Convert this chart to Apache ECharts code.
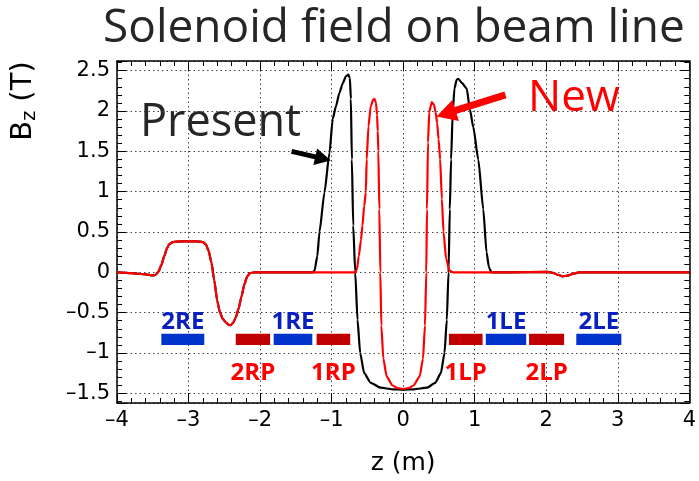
<!DOCTYPE html>
<html><head><meta charset="utf-8">
<script src="https://cdn.jsdelivr.net/npm/echarts@6/dist/echarts.min.js"></script>
<style>html,body{margin:0;padding:0;background:#fff}#c{width:699px;height:481px}</style>
</head><body><div id="c"></div>
<script>
// ---- data ----
const titleText = 'Solenoid field on beam line';
const xTickLabels = [-4, -3, -2, -1, 0, 1, 2, 3, 4];
const yTickLabels = [-1.5, -1, -0.5, 0, 0.5, 1, 1.5, 2, 2.5];

// "New" field (red)
const newZ = [-4.00,-3.80,-3.60,-3.50,-3.46,-3.42,-3.38,-3.34,-3.30,-3.27,-3.22,-3.10,-2.90,-2.80,-2.76,-2.72,-2.68,-2.64,-2.60,-2.56,-2.52,-2.48,-2.44,-2.41,-2.38,-2.34,-2.30,-2.26,-2.22,-2.18,-2.14,-2.08,-1.50,-0.90,
  -0.67,-0.648,-0.62,-0.59,-0.569,-0.545,-0.522,-0.51,-0.485,-0.453,-0.42,-0.40,-0.38,-0.365,-0.355,-0.347,-0.333,-0.319,-0.305,-0.277,-0.231,-0.153,-0.08,0,
  0.08,0.148,0.231,0.277,0.305,0.323,0.333,0.347,0.365,0.40,0.43,0.455,0.475,0.495,0.517,0.541,0.564,0.60,0.648,0.70,1.50,2.02,2.09,2.16,2.23,2.30,2.37,2.46,3.00,4.00];
const newB = [0,-0.01,-0.025,-0.038,-0.03,0.01,0.09,0.20,0.30,0.35,0.375,0.385,0.385,0.375,0.35,0.27,0.12,-0.10,-0.35,-0.50,-0.58,-0.62,-0.65,-0.655,-0.63,-0.56,-0.45,-0.30,-0.15,-0.05,-0.01,0,0,0,
  0,0.03,0.20,0.40,0.58,0.82,0.99,1.40,1.81,2.06,2.14,2.15,2.10,1.95,1.75,1.50,0.78,0,-0.66,-1.07,-1.29,-1.40,-1.435,-1.445,
  -1.435,-1.40,-1.29,-1.07,-0.66,0,0.78,1.61,1.99,2.11,2.08,1.98,1.85,1.65,1.40,0.91,0.50,0.17,0.02,0,0,0.005,-0.005,-0.03,-0.05,-0.04,-0.02,0,0,0];

// "Present" field (black)
const presentZ = [-4.00,-3.80,-3.60,-3.50,-3.46,-3.42,-3.38,-3.34,-3.30,-3.27,-3.22,-3.10,-2.90,-2.80,-2.76,-2.72,-2.68,-2.64,-2.60,-2.56,-2.52,-2.48,-2.44,-2.41,-2.38,-2.34,-2.30,-2.26,-2.22,-2.18,-2.14,-2.08,-1.50,
  -1.26,-1.239,-1.20,-1.17,-1.10,-1.03,-0.985,-0.939,-0.893,-0.846,-0.80,-0.767,-0.745,-0.731,-0.717,-0.698,-0.67,-0.638,-0.601,-0.545,-0.453,-0.315,-0.15,0,
  0.15,0.333,0.448,0.527,0.578,0.61,0.634,0.652,0.67,0.693,0.717,0.749,0.772,0.818,0.888,0.933,0.98,1.05,1.12,1.165,1.20,1.234,1.50,2.02,2.09,2.16,2.23,2.30,2.37,2.46,3.00,4.00];
const presentB = [0,-0.01,-0.025,-0.038,-0.03,0.01,0.09,0.20,0.30,0.35,0.375,0.385,0.385,0.375,0.35,0.27,0.12,-0.10,-0.35,-0.50,-0.58,-0.62,-0.65,-0.655,-0.63,-0.56,-0.45,-0.30,-0.15,-0.05,-0.01,0,0,
  0,0.02,0.20,0.50,0.99,1.48,1.90,2.06,2.22,2.34,2.43,2.45,2.41,2.15,1.40,0.58,0,-0.59,-1.00,-1.25,-1.37,-1.43,-1.45,-1.455,
  -1.45,-1.43,-1.37,-1.25,-1.00,-0.59,0,0.78,1.40,1.99,2.28,2.39,2.40,2.35,2.28,2.02,1.80,1.40,0.78,0.25,0.06,0,0,0.005,-0.005,-0.03,-0.05,-0.04,-0.02,0,0,0];

// magnets along the beam line
const magnetNames = ['2RE','2RP','1RE','1RP','1LP','1LE','2LP','2LE'];
const magnetStart = [-3.38,-2.34,-1.81,-1.21,0.64,1.155,1.76,2.42];
const magnetEnd   = [-2.78,-1.86,-1.27,-0.74,1.11,1.72,2.25,3.05];
const magnetKind  = ['E','P','E','P','P','E','P','E'];
const magnetTop = -0.76, magnetBottom = -0.90;

// annotation arrows (data coordinates)
const presentArrow = [[-1.56, 1.50], [-1.12, 1.41]];
const newArrow = [[1.43, 2.20], [0.60, 1.97]];

// ---- chart ----
const chart = echarts.init(document.getElementById('c'));
const zip = (a, b) => a.map((v, i) => [v, b[i]]);
const fmt = v => (v < 0 ? '\u2013' + Math.abs(v) : String(v));
const near = (arr, v) => arr.some(t => Math.abs(t - v) < 1e-6);
const gridLine = {show: true, lineStyle: {color: '#444', type: [1.5, 3], width: 1}};
const frameLine = {show: true, onZero: false, lineStyle: {color: '#000', width: 1.5}};
const tickStyle = {color: '#000', width: 1};
const YMIN = -1.62, YMAX = 2.62;

const option = {
  animation: false,
  title: {text: titleText, left: 103, top: 6, padding: 0,
    textStyle: {fontFamily: 'Open Sans', fontSize: 46, fontWeight: 'normal', color: '#262626'}},
  grid: {left: 117, right: 4, top: 61, bottom: 76},
  xAxis: [
    {type: 'value', min: -4, max: 4, interval: 1, position: 'bottom',
      axisLine: frameLine,
      axisTick: {show: true, inside: true, length: 10, lineStyle: tickStyle},
      minorTick: {show: true, splitNumber: 5, length: 5, lineStyle: tickStyle},
      axisLabel: {show: true, margin: 7, color: '#000', fontFamily: 'DejaVu Sans', fontSize: 21,
        formatter: v => near(xTickLabels, v) ? fmt(v) : ''},
      splitLine: gridLine,
      name: 'z (m)', nameLocation: 'middle', nameGap: 48,
      nameTextStyle: {color: '#000', fontFamily: 'DejaVu Sans', fontSize: 25}},
    {type: 'value', min: -4, max: 4, interval: 1, position: 'top',
      axisLine: frameLine,
      axisTick: {show: true, inside: true, length: 10, lineStyle: tickStyle},
      minorTick: {show: true, splitNumber: 5, length: 5, lineStyle: tickStyle},
      axisLabel: {show: false}, splitLine: {show: false}}
  ],
  yAxis: [
    {type: 'value', min: YMIN, max: YMAX, minInterval: 0.5, maxInterval: 0.5, splitNumber: 8, position: 'left',
      axisLine: frameLine,
      axisTick: {show: true, inside: true, length: 9, lineStyle: tickStyle},
      axisLabel: {show: true, margin: 7, color: '#000', fontFamily: 'DejaVu Sans', fontSize: 21,
        formatter: v => near(yTickLabels, v) ? fmt(v) : ''},
      splitLine: gridLine},
    {type: 'value', min: YMIN, max: YMAX, minInterval: 0.1, maxInterval: 0.1, splitNumber: 42, position: 'left',
      axisLine: {show: false, onZero: false},
      axisTick: {show: true, inside: true, length: 5, lineStyle: tickStyle},
      axisLabel: {show: false}, splitLine: {show: false}},
    {type: 'value', min: YMIN, max: YMAX, minInterval: 0.5, maxInterval: 0.5, splitNumber: 8, position: 'right',
      axisLine: frameLine,
      axisTick: {show: true, inside: true, length: 9, lineStyle: tickStyle},
      axisLabel: {show: false}, splitLine: {show: false}},
    {type: 'value', min: YMIN, max: YMAX, minInterval: 0.1, maxInterval: 0.1, splitNumber: 42, position: 'right',
      axisLine: {show: false, onZero: false},
      axisTick: {show: true, inside: true, length: 5, lineStyle: tickStyle},
      axisLabel: {show: false}, splitLine: {show: false}}
  ],
  graphic: [
    {type: 'text', x: 23, y: 101, rotation: Math.PI / 2,
      style: {text: 'B{s|z} (T)', align: 'center', verticalAlign: 'middle', fill: '#000',
        font: '29px "DejaVu Sans"', rich: {s: {fontSize: 19, fontFamily: 'DejaVu Sans', padding: [14, 0, 0, 0]}}}},
    {type: 'text', x: 140, y: 123,
      style: {text: 'Present', align: 'left', verticalAlign: 'middle', fill: '#262626', font: '45px "Open Sans"'}},
    {type: 'text', x: 528, y: 98,
      style: {text: 'New', align: 'left', verticalAlign: 'middle', fill: '#ff0000', font: '44px "Open Sans"'}}
  ],
  series: [
    {type: 'line', name: 'Present', data: zip(presentZ, presentB), xAxisIndex: 0, yAxisIndex: 0,
      showSymbol: false, symbol: 'none', smooth: 0.2, smoothMonotone: 'x', z: 3,
      lineStyle: {color: '#000', width: 2.2},
      markLine: {silent: true, symbol: ['none', 'triangle'], symbolSize: [17, 16],
        label: {show: false}, lineStyle: {color: '#000', width: 5, type: 'solid'},
        data: [[{coord: presentArrow[0]}, {coord: presentArrow[1]}]]}},
    {type: 'line', name: 'New', data: zip(newZ, newB), xAxisIndex: 0, yAxisIndex: 0,
      showSymbol: false, symbol: 'none', smooth: 0.2, smoothMonotone: 'x', z: 4,
      lineStyle: {color: '#ff0000', width: 2.2},
      markLine: {silent: true, symbol: ['none', 'triangle'], symbolSize: [22, 20],
        label: {show: false}, lineStyle: {color: '#ff0000', width: 7, type: 'solid'},
        data: [[{coord: newArrow[0]}, {coord: newArrow[1]}]]}},
    {type: 'custom', name: 'magnets', coordinateSystem: 'cartesian2d', xAxisIndex: 0, yAxisIndex: 0,
      data: magnetNames.map((n, i) => [magnetStart[i], magnetEnd[i], i]),
      encode: {x: [0, 1]}, clip: false, z: 5, silent: true,
      renderItem: function (params, api) {
        const i = api.value(2);
        const p0 = api.coord([api.value(0), magnetTop]);
        const p1 = api.coord([api.value(1), magnetBottom]);
        const isE = magnetKind[i] === 'E';
        const cx = (p0[0] + p1[0]) / 2;
        return {type: 'group', children: [
          {type: 'rect', shape: {x: p0[0], y: p0[1], width: p1[0] - p0[0], height: p1[1] - p0[1]},
            style: {fill: isE ? '#0033cc' : '#c00000'}},
          {type: 'text', style: {text: magnetNames[i], x: cx, y: isE ? p0[1] + 1 : p1[1] + 16,
            align: 'center', verticalAlign: isE ? 'bottom' : 'top',
            fill: isE ? '#0a1fbf' : '#ff0000', font: 'bold 24px "Open Sans"'}}
        ]};
      }}
  ]
};
chart.setOption(option);
</script></body></html>
